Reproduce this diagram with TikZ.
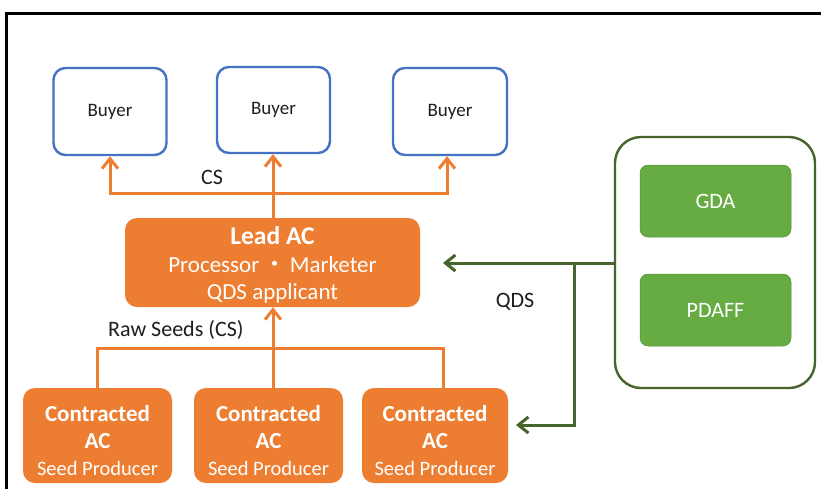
\documentclass[tikz,border=0pt]{standalone}
\usepackage{fontspec}
\setmainfont{Carlito}
\newfontfamily\cjk{Noto Sans CJK SC}
\usetikzlibrary{arrows.meta}
\definecolor{acorange}{HTML}{ED7D31}
\definecolor{buyerblue}{HTML}{4472C4}
\definecolor{govgreen}{HTML}{66AC43}
\definecolor{darkgreen}{HTML}{46642B}
\definecolor{inktext}{HTML}{1E1E1E}
\tikzset{
  buyerbox/.style={draw=buyerblue, line width=2.4pt, rounded corners=12pt, fill=white,
    text=inktext, font=\fontsize{19}{22}\selectfont, inner sep=0pt},
  acbox/.style={fill=acorange, rounded corners=12pt, inner sep=0pt},
  actext/.style={text=white, align=center, inner sep=0pt},
  govbox/.style={fill=govgreen, draw=govgreen!85!black, line width=0.5pt, rounded corners=8pt,
    text=white, font=\fontsize{22}{26}\selectfont, minimum width=151pt, minimum height=72pt},
  flowline/.style={draw=acorange, line width=3pt},
  flowarrow/.style={flowline, -{Straight Barb[length=10pt,width=16pt,line width=3pt]}},
  qdsline/.style={draw=darkgreen, line width=3pt},
  qdsarrow/.style={qdsline, -{Straight Barb[length=10pt,width=16pt,line width=3pt]}},
  lbl/.style={text=inktext, font=\fontsize{22}{26}\selectfont, inner sep=0pt}
}
\begin{document}
\begin{tikzpicture}[x=1pt,y=-1pt]
\useasboundingbox (0,0) rectangle (821,488);
\fill[white] (0,0) rectangle (821,488);
% page frame
\draw[line width=3pt, line cap=rect] (821,13) -- (6.5,13) -- (6.5,489);

% buyers
\node[buyerbox, minimum width=113pt, minimum height=87pt] (b1) at (110,111.5) {Buyer};
\node[buyerbox, minimum width=113pt, minimum height=86pt] (b2) at (273.5,110) {Buyer};
\node[buyerbox, minimum width=114pt, minimum height=87pt] (b3) at (450,111.5) {Buyer};

% lead association
\node[acbox, minimum width=295pt, minimum height=89pt] (lead) at (272.5,262.5) {};
\node[actext, font=\fontsize{23}{27.5}\selectfont] (leadtxt) at (272.5,265)
  {{\fontsize{25.5}{27.5}\selectfont\bfseries Lead AC}\\
   Processor\,{\cjk ・}\,Marketer\\
   QDS applicant};

% contracted producers
\foreach \nm/\cx/\w in {c1/97.5/149, c2/268.5/149, c3/435/146}{
  \node[acbox, minimum width=\w pt, minimum height=95pt] (\nm) at (\cx,435.5) {};
  \node[actext, font=\fontsize{23}{27}\selectfont] (\nm txt) at (\cx,440)
    {{\bfseries Contracted}\\
     {\bfseries AC}\\
     {\fontsize{20.5}{27}\selectfont Seed Producer}};
}

% authorities
\draw[darkgreen, line width=2.4pt, rounded corners=26pt, fill=white] (615,137) rectangle (815,388);
\coordinate (auth) at (615,263);
\node[govbox] (gda) at (715.5,201) {GDA};
\node[govbox] (pdaff) at (715.5,310) {PDAFF};

% CS flow to buyers
\coordinate (csj) at (273,193);
\draw[flowarrow] (lead.north -| csj) -- (b2.south -| csj);
\draw[flowarrow] (csj) -| (b1.south);
\draw[flowarrow] (csj) -| ([xshift=-3pt]b3.south);
\node[lbl] (cs) at (212,177) {CS};

% raw seeds from producers
\coordinate (p1) at (97,388);
\coordinate (p2) at (273,388);
\coordinate (p3) at (443,388);
\coordinate (rsj) at (273,348);
\draw[flowline] (p1) |- (rsj);
\draw[flowline] (p3) |- (rsj);
\draw[flowarrow] (p2) -- (lead.south -| p2);
\node[lbl, anchor=west] (rs) at (108,330) {Raw Seeds (CS)};

% QDS certification
\coordinate (qlead) at (443,263);
\coordinate (qj) at (574,263);
\coordinate (qprod) at (516,425);
\draw[qdsarrow] (auth) -- (qlead);
\draw[qdsarrow] (qj) |- (qprod);
\node[lbl] (qds) at (515,302) {QDS};
\end{tikzpicture}
\end{document}
